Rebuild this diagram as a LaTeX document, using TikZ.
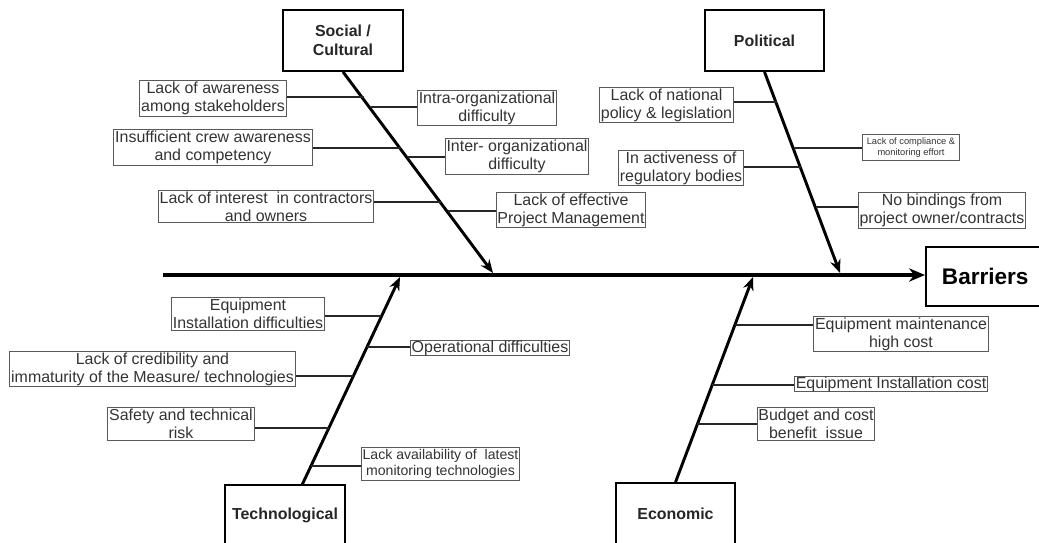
\documentclass[tikz,border=0pt]{standalone}
\usepackage{fontspec}
\setmainfont{Liberation Sans}
\usepackage{tikz}
\usetikzlibrary{calc, arrows.meta}

\begin{document}
\begin{tikzpicture}[x=0.02646cm, y=-0.02646cm]
    % --- Styles ---
    \tikzstyle{category}=[draw=black, line width=1.5pt, fill=white, minimum width=90pt, minimum height=45.75pt, align=center, font=\fontsize{12}{14}\selectfont\bfseries, text=black!85]
    \tikzstyle{effect}=[draw=black, line width=1.5pt, fill=white, anchor=west, minimum height=44pt, inner xsep=12pt, font=\fontsize{17}{20}\selectfont\bfseries]
    \tikzstyle{cause}=[draw=black!65, line width=0.7pt, fill=white, align=center, inner xsep=1pt, inner ysep=1pt, font=\fontsize{12}{13.5}\selectfont, text=black!80]
    \tikzstyle{spine}=[line width=3pt, -{Stealth[length=12pt, width=10pt]}]
    \tikzstyle{bone}=[line width=2.2pt, -{Stealth[length=10pt, width=8pt]}]
    \tikzstyle{twig}=[line width=1.1pt, color=black!85]

    \useasboundingbox (0,0) rectangle (1039,542);

    % --- 1. Spine and Effect ---
    \node[effect] (barriers) at (925,276.5) {Barriers};
    \coordinate (tail) at (163,275);
    \draw[spine] (tail) -- (barriers.west |- tail);

    % --- 2. Categories ---
    \node[category] (social) at (343,40.5) {Social /\\Cultural};
    \node[category] (political) at (764.5,40.5) {Political};
    \node[category] (techno) at (285,515.5) {Technological};
    \node[category] (economic) at (675.5,513.5) {Economic};

    \coordinate (sTip) at (493,273);
    \coordinate (pTip) at (840,273);
    \coordinate (tBase) at (302,485);
    \coordinate (tTip) at (400,277);
    \coordinate (eTip) at (753,277);

    \draw[bone] (social.south) -- (sTip);
    \draw[bone] (political.south) -- (pTip);
    \draw[bone] (tBase) -- (tTip);
    \draw[bone] (economic.north) -- (eTip);

    % --- 3. Social / Cultural causes ---
    \node[cause] (aware) at (213,98.5) {Lack of awareness\\among stakeholders};
    \node[cause] (intra) at (487,108) {Intra-organizational\\difficulty};
    \node[cause] (crew) at (213,147.5) {Insufficient crew awareness\\and competency};
    \node[cause] (inter) at (517,156.5) {Inter- organizational\\difficulty};
    \node[cause] (interest) at (266,206.5) {Lack of interest\ \ in contractors\\and owners};
    \node[cause] (projman) at (571,210) {Lack of effective\\Project Management};

    \coordinate (s1) at (364,97);
    \coordinate (s2) at (371,107);
    \coordinate (s3) at (401,148);
    \coordinate (s4) at (408,157);
    \coordinate (s5) at (441,202);
    \coordinate (s6) at (448,211);
    \draw[twig] (s1) -- (s1 -| aware.east);
    \draw[twig] (s2) -- (s2 -| intra.west);
    \draw[twig] (s3) -- (s3 -| crew.east);
    \draw[twig] (s4) -- (s4 -| inter.west);
    \draw[twig] (s5) -- (s5 -| interest.east);
    \draw[twig] (s6) -- (s6 -| projman.west);

    % --- 4. Political causes ---
    \node[cause] (natpol) at (666.5,105) {Lack of national\\policy \& legislation};
    \node[cause, font=\fontsize{7}{8.5}\selectfont, inner ysep=2pt, inner xsep=3pt] (comply) at (911,147.5) {Lack of compliance \&\\monitoring effort};
    \node[cause] (inactive) at (681,168) {In activeness of\\regulatory bodies};
    \node[cause] (bindings) at (942,210.5) {No bindings from\\project owner/contracts};

    \coordinate (p1) at (776.5,102);
    \coordinate (p2) at (793.6,148);
    \coordinate (p3) at (800.6,167);
    \coordinate (p4) at (815.5,207);
    \draw[twig] (p1) -- (p1 -| natpol.east);
    \draw[twig] (p2) -- (p2 -| comply.west);
    \draw[twig] (p3) -- (p3 -| inactive.east);
    \draw[twig] (p4) -- (p4 -| bindings.west);

    % --- 5. Technological causes ---
    \node[cause] (eqinst) at (248,314) {Equipment\\Installation difficulties};
    \node[cause, inner ysep=0.3pt] (opdiff) at (490,348) {Operational difficulties};
    \node[cause] (cred) at (152.5,369) {Lack of credibility and\\immaturity of the Measure/ technologies};
    \node[cause] (safety) at (181,424) {Safety and technical\\risk};
    \node[cause, font=\fontsize{10.6}{12}\selectfont, inner ysep=1.5pt] (latest) at (440.5,463.5) {Lack availability of\ \ latest\\monitoring technologies};

    \coordinate (t1) at (381.2,316);
    \coordinate (t2) at (366.7,347);
    \coordinate (t3) at (353.1,376);
    \coordinate (t4) at (328.7,428);
    \coordinate (t5) at (310.9,466);
    \draw[twig] (t1) -- (t1 -| eqinst.east);
    \draw[twig] (t2) -- (t2 -| opdiff.west);
    \draw[twig] (t3) -- (t3 -| cred.east);
    \draw[twig] (t4) -- (t4 -| safety.east);
    \draw[twig] (t5) -- (t5 -| latest.west);

    % --- 6. Economic causes ---
    \node[cause] (maint) at (901,334) {Equipment maintenance\\high cost};
    \node[cause, inner ysep=0.3pt] (instcost) at (891,384) {Equipment Installation cost};
    \node[cause] (budget) at (816,424) {Budget and cost\\benefit\ \ issue};

    \coordinate (e1) at (734.5,325);
    \coordinate (e2) at (711.9,385);
    \coordinate (e3) at (697.2,424);
    \draw[twig] (e1) -- (e1 -| maint.west);
    \draw[twig] (e2) -- (e2 -| instcost.west);
    \draw[twig] (e3) -- (e3 -| budget.west);

\end{tikzpicture}
\end{document}
